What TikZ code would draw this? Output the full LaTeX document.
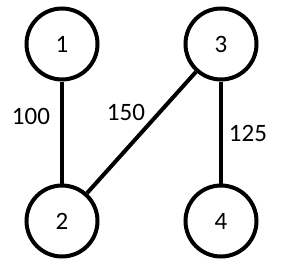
\documentclass[tikz,border=0pt]{standalone}
\usepackage{fontspec}
\setmainfont{Carlito}
\begin{document}
\begin{tikzpicture}[x=1pt,y=-1pt,
  vert/.style={circle,draw=black,line width=4pt,minimum size=71pt,inner sep=0pt,font=\fontsize{25}{27}\selectfont},
  edge/.style={line width=4pt},
  wlabel/.style={font=\fontsize{25}{27}\selectfont,inner sep=0pt}]
\useasboundingbox[fill=white] (0,0) rectangle (284,265);
\node[vert] (n1) at (62,44) {1};
\node[vert] (n3) at (221,44) {3};
\node[vert] (n2) at (62,221) {2};
\node[vert] (n4) at (221,221) {4};
\draw[edge] (n1) -- (n2);
\draw[edge] (n3) -- (n2);
\draw[edge] (n3) -- (n4);
\node[wlabel] (l100) at (31,116) {100};
\node[wlabel] (l150) at (126,112) {150};
\node[wlabel] (l125) at (248,133) {125};
\end{tikzpicture}
\end{document}
